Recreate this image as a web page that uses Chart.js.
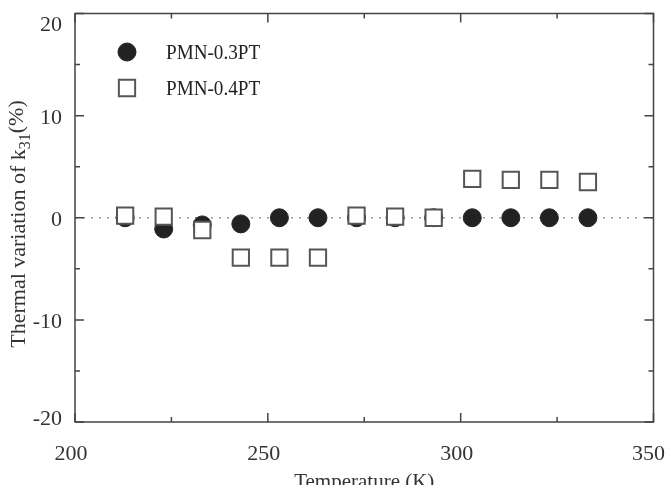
<!DOCTYPE html>
<html>
<head>
<meta charset="utf-8">
<script src="https://cdn.jsdelivr.net/npm/chart.js@4/dist/chart.umd.min.js"></script>
<style>
  html, body { margin: 0; padding: 0; background: #fff; }
  #wrap { width: 667px; height: 485px; }
</style>
</head>
<body>
<div id="wrap"><canvas id="chart" width="667" height="485"></canvas></div>
<script>
// data
const temperatures = [213, 223, 233, 243, 253, 263, 273, 283, 293, 303, 313, 323, 333];
const pmn03 = [0, -1.1, -0.7, -0.6, 0, 0, 0, 0, 0, 0, 0, 0, 0];
const pmn04 = [0.2, 0.1, -1.2, -3.9, -3.9, -3.9, 0.2, 0.1, 0, 3.8, 3.7, 3.7, 3.5];
const seriesNames = ['PMN-0.3PT', 'PMN-0.4PT'];
const xTitle = 'Temperature (K)';

const serif = "'Liberation Serif', 'DejaVu Serif', serif";
const ink = '#333';
const axisColor = '#444';

function toPoints(xs, ys) {
    const pts = [];
    for (let i = 0; i < xs.length; i++) {
        pts.push({ x: xs[i], y: ys[i] });
    }
    return pts;
}

// zero reference line, drawn under the markers
const zeroLine = {
    id: 'zeroLine',
    beforeDatasetsDraw(chart) {
        const ctx = chart.ctx;
        const area = chart.chartArea;
        const y = chart.scales.y.getPixelForValue(0);
        ctx.save();
        ctx.strokeStyle = '#999';
        ctx.lineWidth = 1.6;
        ctx.setLineDash([2, 6]);
        ctx.beginPath();
        ctx.moveTo(area.left, y);
        ctx.lineTo(area.right, y);
        ctx.stroke();
        ctx.restore();
    }
};

// box, inward ticks, tick labels, titles and legend
const frame = {
    id: 'frame',
    afterDraw(chart) {
        const ctx = chart.ctx;
        const { left, right, top, bottom } = chart.chartArea;
        const xs = chart.scales.x;
        const ys = chart.scales.y;
        ctx.save();

        ctx.strokeStyle = axisColor;
        ctx.lineWidth = 1.5;
        ctx.strokeRect(left, top, right - left, bottom - top);

        // x ticks (major every 50, minor every 25)
        ctx.beginPath();
        for (let v = xs.min; v <= xs.max; v += 25) {
            const px = xs.getPixelForValue(v);
            const len = v % 50 === 0 ? 9 : 5;
            ctx.moveTo(px, bottom); ctx.lineTo(px, bottom - len);
            ctx.moveTo(px, top); ctx.lineTo(px, top + len);
        }
        // y ticks (major every 10, minor every 5)
        for (let v = ys.min; v <= ys.max; v += 5) {
            const py = ys.getPixelForValue(v);
            const len = v % 10 === 0 ? 9 : 5;
            ctx.moveTo(left, py); ctx.lineTo(left + len, py);
            ctx.moveTo(right, py); ctx.lineTo(right - len, py);
        }
        ctx.stroke();

        // tick labels
        ctx.fillStyle = ink;
        ctx.font = '22px ' + serif;
        ctx.textBaseline = 'alphabetic';
        ctx.textAlign = 'center';
        xs.ticks.forEach(t => {
            const label = String(t.value);
            const w = ctx.measureText(label).width;
            let cx = xs.getPixelForValue(t.value) - 4;
            cx = Math.min(cx, chart.width - 2 - w / 2);
            cx = Math.max(cx, w / 2 + 2);
            ctx.fillText(label, cx, 460);
        });
        ctx.textAlign = 'right';
        ys.ticks.forEach(t => {
            const py = ys.getPixelForValue(t.value);
            const base = Math.min(Math.max(py + 8, 31), 425);
            ctx.fillText(String(t.value), left - 13, base);
        });

        // x title (partly cut by the bottom edge, as in the figure)
        ctx.textAlign = 'center';
        ctx.font = '21px ' + serif;
        ctx.fillText(xTitle, (left + right) / 2, 488);

        // y title with subscript
        ctx.save();
        ctx.translate(25, 224);
        ctx.rotate(-Math.PI / 2);
        ctx.textAlign = 'left';
        const big = '22px ' + serif;
        const small = '16px ' + serif;
        ctx.font = big;
        const w1 = ctx.measureText('Thermal variation of k').width;
        const w3 = ctx.measureText('(%)').width;
        ctx.font = small;
        const w2 = ctx.measureText('31').width;
        let x0 = -(w1 + w2 + w3) / 2;
        ctx.font = big;
        ctx.fillText('Thermal variation of k', x0, 0);
        ctx.font = small;
        ctx.fillText('31', x0 + w1, 5);
        ctx.font = big;
        ctx.fillText('(%)', x0 + w1 + w2, -2);
        ctx.restore();

        // legend
        const sets = chart.data.datasets;
        const rows = [52, 88];
        sets.forEach((ds, i) => {
            ctx.fillStyle = ds.pointBackgroundColor;
            ctx.strokeStyle = ds.pointBorderColor;
            ctx.lineWidth = ds.pointBorderWidth;
            ctx.beginPath();
            if (ds.pointStyle === 'circle') {
                ctx.arc(127, rows[i], ds.pointRadius, 0, Math.PI * 2);
            } else {
                const s = ds.pointRadius * Math.SQRT1_2;
                ctx.rect(127 - s, rows[i] - s, 2 * s, 2 * s);
            }
            ctx.fill();
            ctx.stroke();

            // condensed serif, like the figure
            ctx.save();
            ctx.translate(166, rows[i] + 1);
            ctx.scale(0.87, 1);
            ctx.fillStyle = '#222';
            ctx.font = '22px ' + serif;
            ctx.textAlign = 'left';
            ctx.textBaseline = 'middle';
            ctx.fillText(ds.label, 0, 0);
            ctx.restore();
        });
        ctx.restore();
    }
};

const ctx = document.getElementById('chart').getContext('2d');

new Chart(ctx, {
    type: 'scatter',
    data: {
        datasets: [{
            label: seriesNames[0],
            data: toPoints(temperatures, pmn03),
            pointStyle: 'circle',
            pointRadius: 9,
            pointBackgroundColor: '#222',
            pointBorderColor: '#222',
            pointBorderWidth: 1,
            order: 2
        }, {
            label: seriesNames[1],
            data: toPoints(temperatures, pmn04),
            pointStyle: 'rect',
            pointRadius: 11.5,
            pointBackgroundColor: '#fff',
            pointBorderColor: '#555',
            pointBorderWidth: 2,
            order: 1
        }]
    },
    options: {
        responsive: false,
        animation: false,
        layout: { padding: { top: 13, right: 7, left: 0, bottom: 0 } },
        plugins: {
            legend: { display: false },
            tooltip: { enabled: false }
        },
        scales: {
            x: {
                type: 'linear',
                min: 200,
                max: 350,
                ticks: { display: false, stepSize: 50 },
                grid: { display: false },
                border: { display: false },
                afterFit(scale) {
                    scale.height = 63;
                    scale.paddingLeft = 0;
                    scale.paddingRight = 0;
                }
            },
            y: {
                min: -20,
                max: 20,
                ticks: { display: false, stepSize: 10 },
                grid: { display: false },
                border: { display: false },
                afterFit(scale) {
                    scale.width = 75;
                    scale.paddingTop = 0;
                    scale.paddingBottom = 0;
                }
            }
        }
    },
    plugins: [zeroLine, frame]
});
</script>
</body>
</html>
